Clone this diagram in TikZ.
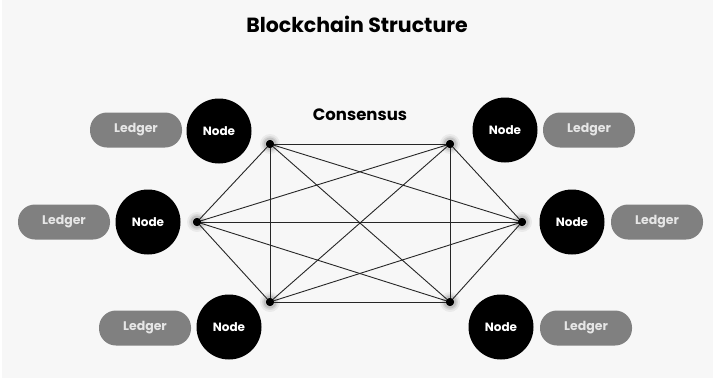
\documentclass[tikz,border=0pt]{standalone}
\usepackage{fontspec}
\setmainfont{Poppins}
\definecolor{bgc}{HTML}{F7F7F7}
\definecolor{ledgerc}{HTML}{808080}
\definecolor{ledgertxt}{HTML}{E6E6E6}
\tikzset{
  nodecirc/.style={circle, fill=black, minimum size=65pt, inner sep=0pt, text=white, font=\fontsize{12}{13}\selectfont\bfseries},
  ledgerbox/.style={rounded corners=17pt, fill=ledgerc, minimum width=92pt, minimum height=35pt, inner sep=0pt, text=ledgertxt, font=\fontsize{12.5}{13}\selectfont\bfseries},
  hub/.style={circle, fill=black, minimum size=8pt, inner sep=0pt},
  link/.style={draw=black!85, line width=0.9pt}
}
\begin{document}
\begin{tikzpicture}[x=1pt,y=-1pt]
\useasboundingbox (0,0) rectangle (715,381);
\fill[white] (0,0) rectangle (715,381);
\fill[bgc] (2,0) rectangle (713,378);
\node[font=\fontsize{20.5}{24}\selectfont\bfseries] (title) at (357,24) {Blockchain Structure};
\node[font=\fontsize{16.5}{19}\selectfont\bfseries] (cons) at (360,115) {Consensus};
% hubs
\node[hub] (h1) at (270,144) {};
\node[hub] (h2) at (450,144) {};
\node[hub] (h3) at (197,222) {};
\node[hub] (h4) at (522,222) {};
\node[hub] (h5) at (270,302) {};
\node[hub] (h6) at (450,302) {};
\foreach \h in {h1,h2,h3,h4,h5,h6}{
  \foreach \r/\o in {10/0.05,8/0.07,6.5/0.1}
    \fill[black,opacity=\o] (\h) circle (\r pt);
}
\foreach \a/\b in {h1/h2,h1/h3,h1/h4,h1/h5,h1/h6,h2/h3,h2/h4,h2/h5,h2/h6,h3/h4,h3/h5,h3/h6,h4/h5,h4/h6,h5/h6}
  \draw[link] (\a.center) -- (\b.center);
\foreach \h in {h1,h2,h3,h4,h5,h6}
  \fill (\h) circle (4pt);
% nodes
\node[nodecirc] (n1) at (219,131) {Node};
\node[nodecirc] (n2) at (148,222) {Node};
\node[nodecirc] (n3) at (229,327) {Node};
\node[nodecirc] (n4) at (505,130) {Node};
\node[nodecirc] (n5) at (572,222) {Node};
\node[nodecirc] (n6) at (501,327) {Node};
% ledgers
\node[ledgerbox] (l1) at (136,130) {Ledger};
\node[ledgerbox] (l2) at (64,222) {Ledger};
\node[ledgerbox] (l3) at (145,328) {Ledger};
\node[ledgerbox] (l4) at (589,130) {Ledger};
\node[ledgerbox] (l5) at (657,222) {Ledger};
\node[ledgerbox] (l6) at (586,328) {Ledger};
\end{tikzpicture}
\end{document}
